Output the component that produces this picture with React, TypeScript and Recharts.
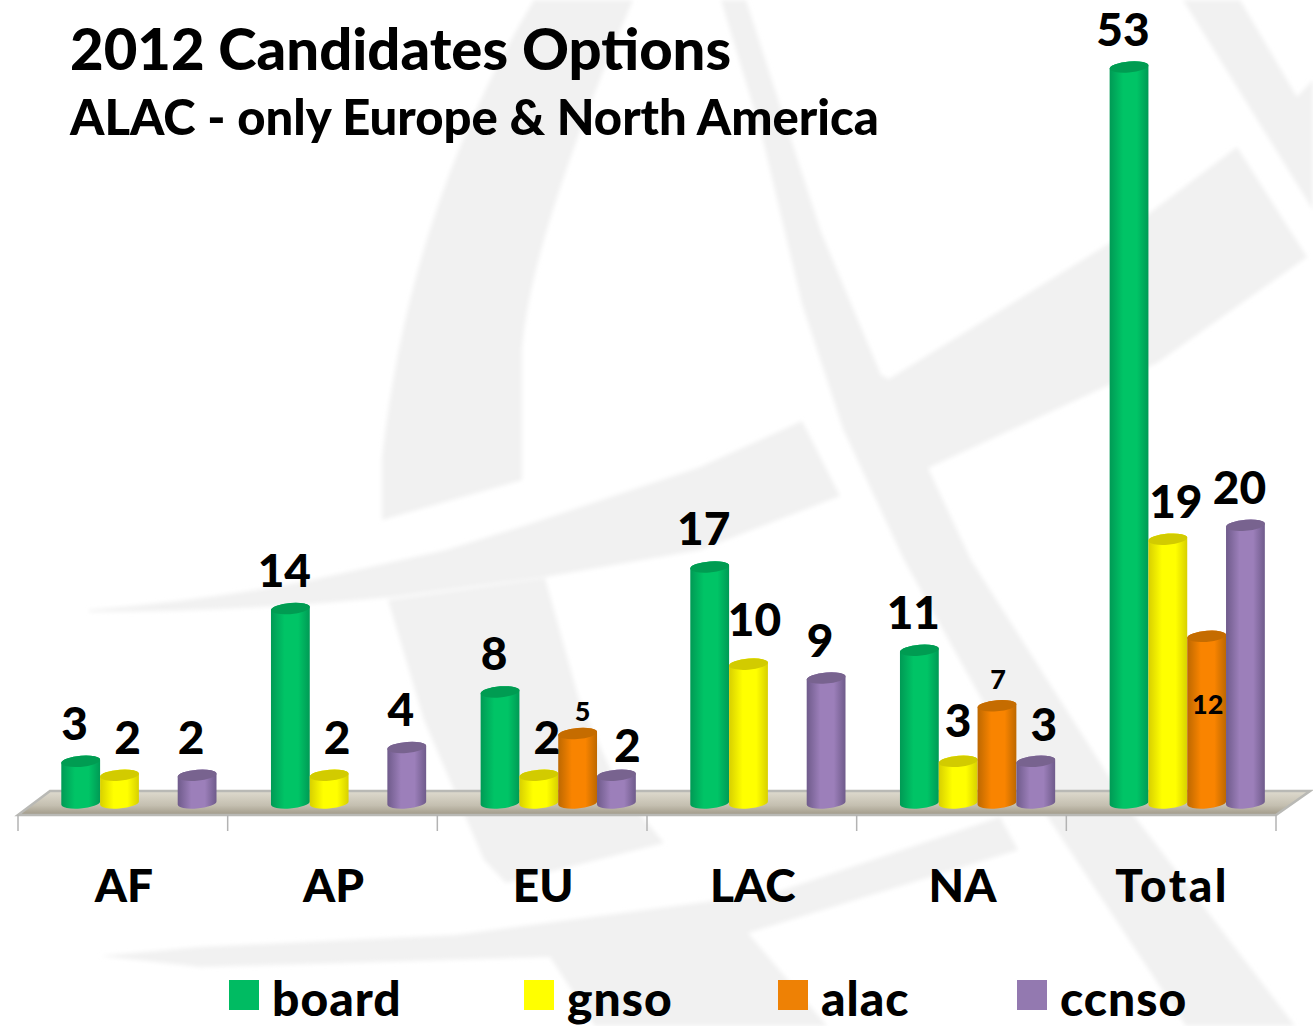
import { BarChart, Bar, XAxis, YAxis, Legend, LabelList, ReferenceArea } from "recharts";

const categories = ["AF", "AP", "EU", "LAC", "NA", "Total"];
const board = [3, 14, 8, 17, 11, 53];
const gnso = [2, 2, 2, 10, 3, 19];
const alac = [null, null, 5, null, 7, 12];
const ccnso = [2, 4, 2, 9, 3, 20];

const data = categories.map((name, i) => ({
  name,
  board: board[i],
  gnso: gnso[i],
  alac: alac[i],
  ccnso: ccnso[i],
}));

const W = 1313;
const H = 1026;
const FONT = "Lato, Carlito, sans-serif";
const WEIGHT = 900;
const PLOT_LEFT = 18;
const BAND = 1258 / categories.length;
const BAR_SHIFT = 16.3; // columns sit back on the 3d floor, ticks stay on the front edge

const series = [
  { key: "board", flat: "#00bb62", top: "#009c52", edge: "#009a55", mid: "#00c466", left: 229, label: { dx: -6, dy: -39, size: 46 } },
  { key: "gnso", flat: "#ffff00", top: "#d2cb00", edge: "#d8d000", mid: "#ffff00", left: 524, label: { dx: 8, dy: -39, size: 46 } },
  { key: "alac", flat: "#ee8105", top: "#c56c00", edge: "#bd6800", mid: "#f98400", left: 778, label: { dx: 3, dy: -24, size: 27 } },
  { key: "ccnso", flat: "#9379b0", top: "#78638f", edge: "#6f5b8b", mid: "#9c7fba", left: 1017, label: { dx: -6, dy: -39, size: 46 } },
];

// labels the original slide had dragged by hand
const labelTweaks: Record<string, { dx?: number; dy?: number }> = {
  "gnso-LAC": { dx: 6, dy: -46 },
  "gnso-NA": { dx: 0, dy: -42 },
  "ccnso-EU": { dx: 11, dy: -31 },
  "ccnso-NA": { dx: 8, dy: -38 },
  "alac-EU": { dx: 5, dy: -23 },
  "alac-NA": { dx: 1, dy: -27 },
  "alac-Total": { dx: 1, dy: 67 },
};

const watermark = [
  "M534,0 Q410,205 382,458 L382,520 L522,480 L522,350 Q530,240 633,0 Z",
  "M89,610 Q210,600 312,580 L446,550 L520,527 L700,467 L802,421 L840,496 L700,550 L545,577 L393,597 Q240,612 89,612 Z",
  "M388,600 L424,720 L484,860 L506,883 L664,843 L620,790 L580,703 L545,578 Z",
  "M721,0 L746,0 L821,232 L881,375 L889,379 L1110,243 L1237,147 L1307,257 L1157,363 L928,468 L971,560 L1132,813 L1295,1026 L1186,1026 L1045,813 L904,560 L843,429 L802,304 L761,132 Z",
  "M1183,0 L1240,0 L1297,97 L1313,80 L1313,210 Z",
  "M200,947 L455,935 L774,893 L1000,817 L1018,850 L748,933 L827,1026 L595,1026 L550,957 L200,967 Q140,960 100,956 Z",
];

function Cylinder(props: any) {
  const { x, y, width, height, fill, top } = props;
  if (!height) return null;
  const l = x + BAR_SHIFT;
  const r = l + width;
  const rx = width / 2;
  const base = y + height;
  return (
    <g>
      <path
        d={`M${l},${y + 1.5} L${l},${base + 1.5} A${rx},5.5 -5 0 0 ${r},${base - 1.5} L${r},${y - 1.5} A${rx},5.5 -5 0 0 ${l},${y + 1.5} Z`}
        fill={fill}
      />
      <path
        d={`M${l},${y + 1.5} A${rx},5.5 -5 0 0 ${r},${y - 1.5} A${rx},5.5 -5 0 0 ${l},${y + 1.5} Z`}
        fill={top}
      />
    </g>
  );
}

function Floor(props: any) {
  const { x, y, width, height } = props;
  return (
    <polygon
      points={`${x},${y + height} ${x + width},${y + height} ${x + width + 34},${y} ${x + 32},${y}`}
      fill="url(#floorFill)"
      stroke="#b9b9b5"
      strokeWidth={2.5}
    />
  );
}

function AxisTick(props: any) {
  const { x, y, payload, index } = props;
  const last = index === categories.length - 1;
  return (
    <g>
      <line x1={x - BAND / 2} x2={x - BAND / 2} y1={y} y2={y + 16} stroke="#b3b3b3" strokeWidth={1.5} />
      {last && <line x1={x + BAND / 2} x2={x + BAND / 2} y1={y} y2={y + 16} stroke="#b3b3b3" strokeWidth={1.5} />}
      <text
        x={x + 1}
        y={y + 69}
        textAnchor="middle"
        dominantBaseline="central"
        fontFamily={FONT}
        fontWeight={WEIGHT}
        fontSize={46}
        letterSpacing={last ? 2.6 : 0}
        fill="#000"
      >
        {payload.value}
      </text>
    </g>
  );
}

function makeLabel(s: (typeof series)[number]) {
  return function BarLabel(props: any) {
    const { x, y, width, value } = props;
    if (value === null || value === undefined) return null;
    // index skips the empty alac cells, so take the category from the band the bar is in
    const cat = categories[Math.floor((x - PLOT_LEFT) / BAND)];
    const tweak = labelTweaks[`${s.key}-${cat}`] ?? {};
    const dx = tweak.dx ?? s.label.dx;
    const dy = tweak.dy ?? s.label.dy;
    return (
      <text
        x={x + BAR_SHIFT + width / 2 + dx}
        y={y + dy}
        textAnchor="middle"
        dominantBaseline="central"
        fontFamily={FONT}
        fontWeight={WEIGHT}
        fontSize={s.label.size}
        fill="#000"
      >
        {value}
      </text>
    );
  };
}

function LegendRow() {
  return (
    <div style={{ position: "relative", width: W, height: 46 }}>
      {series.map((s) => (
        <div key={s.key} style={{ position: "absolute", left: s.left, top: 0 }}>
          <div style={{ position: "absolute", left: 0, top: 0, width: 30, height: 30, background: s.flat }} />
          <div
            style={{
              position: "absolute",
              left: 43,
              top: -9,
              fontFamily: FONT,
              fontWeight: WEIGHT,
              fontSize: 48,
              letterSpacing: 1,
              lineHeight: "54px",
              color: "#000",
            }}
          >
            {s.key}
          </div>
        </div>
      ))}
    </div>
  );
}

export default function App() {
  return (
    <div style={{ position: "absolute", left: 0, top: 0, width: W, height: H, overflow: "hidden", background: "#fff" }}>
      <svg width={W} height={H} style={{ position: "absolute", left: 0, top: 0 }}>
        <defs>
          <filter id="soft">
            <feGaussianBlur stdDeviation="2" />
          </filter>
        </defs>
        <g fill="#f1f1f1" filter="url(#soft)">
          {watermark.map((d, i) => (
            <path key={i} d={d} />
          ))}
        </g>
      </svg>

      <div style={{ position: "absolute", left: 70, top: 16, fontFamily: FONT, fontWeight: WEIGHT, fontSize: 58, lineHeight: "64px", color: "#000", whiteSpace: "nowrap" }}>
        2012 Candidates Options
      </div>
      <div style={{ position: "absolute", left: 70, top: 89, fontFamily: FONT, fontWeight: WEIGHT, fontSize: 49, lineHeight: "54px", color: "#000", whiteSpace: "nowrap" }}>
        ALAC - only Europe &amp; North America
      </div>

      <div style={{ position: "absolute", left: 0, top: 0 }}>
        <BarChart
          width={W}
          height={H}
          data={data}
          barGap={0}
          barSize={38.8}
          margin={{ top: 67, right: 37, bottom: 141, left: PLOT_LEFT }}
        >
          <defs>
            <linearGradient id="floorFill" x1="0" y1="0" x2="0" y2="1">
              <stop offset="0%" stopColor="#dfdbcf" />
              <stop offset="60%" stopColor="#c4bfb0" />
              <stop offset="100%" stopColor="#a09988" />
            </linearGradient>
            {series.map((s) => (
              <linearGradient key={s.key} id={`fill-${s.key}`} x1="0" y1="0" x2="1" y2="0">
                <stop offset="0%" stopColor={s.edge} />
                <stop offset="35%" stopColor={s.mid} />
                <stop offset="70%" stopColor={s.mid} />
                <stop offset="100%" stopColor={s.edge} />
              </linearGradient>
            ))}
          </defs>
          <XAxis
            dataKey="name"
            height={70}
            axisLine={false}
            tickLine={false}
            tickSize={0}
            tickMargin={0}
            interval={0}
            tick={AxisTick}
          />
          <YAxis hide domain={[-0.864, 53]} />
          <ReferenceArea y1={-0.864} y2={0.864} shape={Floor} />
          <Legend
            layout="horizontal"
            verticalAlign="middle"
            content={LegendRow}
            wrapperStyle={{ top: 980, left: 0, width: W, height: 46 }}
          />
          {series.map((s) => (
            <Bar
              key={s.key}
              dataKey={s.key}
              fill={`url(#fill-${s.key})`}
              shape={(p: any) => <Cylinder {...p} top={s.top} />}
              isAnimationActive={false}
            >
              <LabelList dataKey={s.key} content={makeLabel(s)} />
            </Bar>
          ))}
        </BarChart>
      </div>
    </div>
  );
}
